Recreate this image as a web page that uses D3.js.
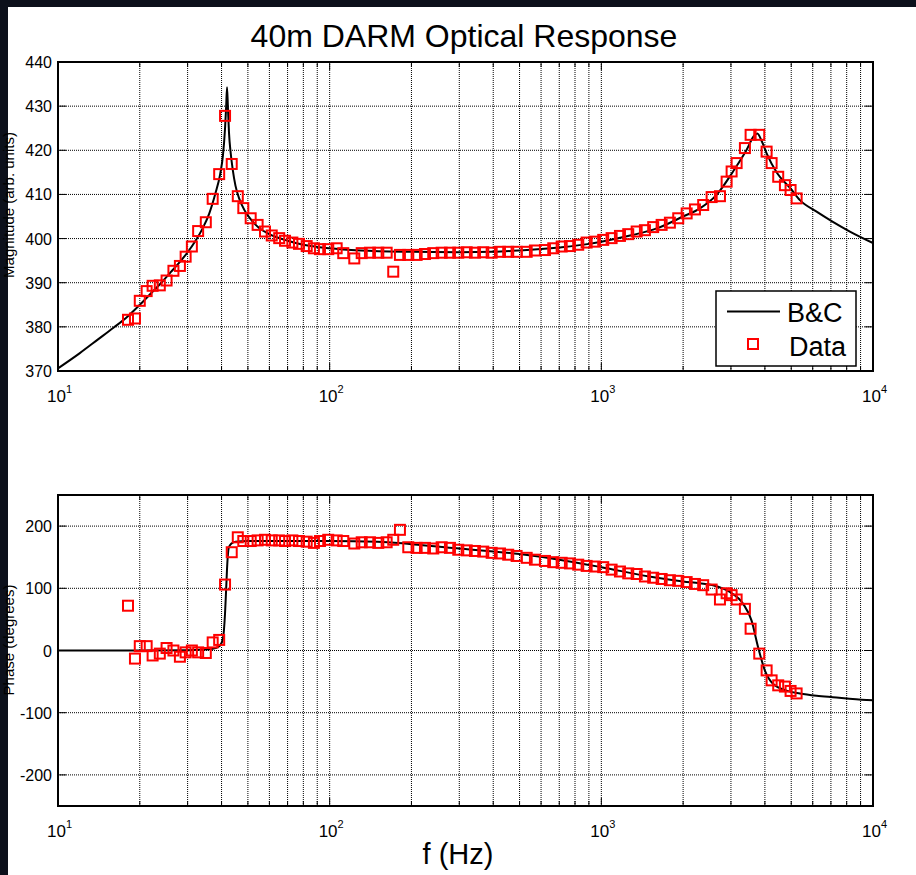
<!DOCTYPE html>
<html>
<head>
<meta charset="utf-8">
<script src="https://cdn.jsdelivr.net/npm/d3@7.9.0/dist/d3.min.js"></script>
<style>
  html, body { margin: 0; padding: 0; background: #0c101b; }
  svg { display: block; }
  text { font-family: "Liberation Sans", Arial, sans-serif; fill: #000; }
</style>
</head>
<body>
<svg width="916" height="875"></svg>
<script>
// measured sweep (Hz)
const freqs = [18.1, 19.2, 20.0, 21.2, 22.3, 23.7, 25.1, 26.6, 28.1, 29.5,
  31.1, 32.8, 35.0, 37.1, 39.2, 41.2, 43.6, 45.9, 48.1, 51.2,
  54.3, 57.8, 61.2, 65.2, 68.5, 72.9, 77.1, 82.3, 87.5, 92.1,
  98.8, 106.1, 112.2, 123.2, 131.2, 140.7, 151.0, 162.1, 171.4, 181.4,
  194.7, 209.0, 224.3, 240.6, 258.4, 277.2, 297.4, 319.4, 342.6, 367.6,
  394.8, 423.6, 454.2, 487.7, 531.1, 569.6, 620.2, 665.3, 714.5, 766.3,
  822.2, 882.9, 947.1, 1016, 1091, 1171, 1256, 1349, 1447, 1552,
  1667, 1788, 1919, 2061, 2211, 2371, 2547, 2733, 2892, 3017,
  3148, 3377, 3544, 3813, 4059, 4235, 4478, 4740, 4973, 5234];

const magData = [381.6, 381.9, 385.9, 388.1, 389.3, 389.4, 390.5, 392.7, 393.8, 395.9,
  398.2, 401.7, 403.7, 409.0, 414.6, 427.8, 416.9, 409.6, 406.9, 404.6,
  403.1, 401.6, 400.7, 400.1, 399.5, 399.1, 398.8, 398.3, 397.8, 397.6,
  397.6, 397.8, 396.7, 395.5, 396.7, 396.8, 396.8, 396.8, 392.5, 396.3,
  396.3, 396.3, 396.5, 396.7, 396.8, 396.8, 396.8, 396.9, 396.8, 396.9,
  396.8, 397.0, 397.0, 397.0, 397.0, 397.3, 397.4, 397.8, 398.2, 398.3,
  398.6, 399.1, 399.3, 399.7, 400.1, 400.6, 401.0, 401.6, 401.9, 402.6,
  403.1, 403.6, 404.6, 405.7, 406.6, 407.6, 409.4, 409.6, 412.9, 415.2,
  417.1, 420.5, 423.5, 423.5, 419.7, 417.1, 414.0, 412.1, 411.0, 409.1];

const phaseData = [72, -13, 7, 7, -8, -5, 4, 0, -10, -3,
  0, -3, -4, 13, 17, 106, 158, 182, 176, 176,
  177, 178, 177, 177, 176, 177, 176, 175, 173, 176,
  178, 177, 176, 172, 174, 174, 173, 174, 178, 194,
  166, 165, 165, 164, 166, 165, 162, 161, 160, 159,
  157, 156, 154, 152, 149, 146, 144, 142, 141, 140,
  138, 136, 135, 134, 130, 127, 124, 123, 119, 117,
  115, 113, 112, 110, 107, 105, 98, 82, 92, 89,
  82, 67, 35, -5, -32, -48, -56, -58, -65, -69];

// B&C model
const magModelFreqs = [10, 12, 14, 16, 18, 20, 22, 24, 26, 28, 30, 32, 34, 36, 38,
  39.5, 40.5, 41.2, 41.6, 41.9, 42.2, 42.6, 43.2, 44, 45, 46.5, 48.5, 51, 55, 60,
  70, 80, 100, 130, 200, 300, 400, 500, 700, 900, 1000, 1300, 1600, 2000, 2300,
  2655, 3055, 3427, 3650, 3750, 3900, 4059, 4440, 4965, 5383, 6199, 7117, 8222, 10000];
const magModel = [370.6, 374.0, 377.1, 379.8, 382.3, 385.0, 387.6, 390.0, 392.4, 394.6, 396.9, 399.4, 402.2, 405.6, 410.3,
  414.5, 419.0, 425.0, 430.0, 434.3, 430.0, 424.0, 419.5, 415.5, 412.0, 409.0, 406.5, 404.5, 402.4, 401.0,
  399.5, 398.6, 397.8, 397.3, 397.0, 396.9, 397.0, 397.3, 398.0, 398.8, 399.3, 400.8, 402.3, 405.0, 406.8,
  409.9, 415.2, 420.1, 423.3, 423.8, 422.0, 419.3, 414.8, 411.4, 408.7, 406.1, 403.8, 401.6, 399.0];

const phaseModelFreqs = [10, 20, 30, 36, 38, 39.5, 40.5, 41.2, 41.6, 42, 42.5, 43.5, 45, 50,
  100, 150, 200, 300, 500, 700, 1000, 1500, 2000, 2300, 2576, 2972, 3327, 3573, 3778,
  3998, 4293, 4808, 5383, 6199, 7117, 9456, 10000];
const phaseModel = [0, 0, 0.5, 2, 4, 8, 20, 60, 100, 140, 165, 172, 175, 176,
  176, 175, 171, 164, 155, 146, 134, 119, 111, 108, 105, 94, 75, 48, 5,
  -32, -54, -64.5, -69, -72.6, -75, -79.5, -80];

const magTicks = [370, 380, 390, 400, 410, 420, 430, 440];
const phaseTicks = [-200, -100, 0, 100, 200];
const decadeTicks = [10, 100, 1000, 10000];

const svg = d3.select('svg');

// white figure area
svg.append('rect').attr('x', 8).attr('y', 7).attr('width', 908).attr('height', 868).attr('fill', '#fff');

const x = d3.scaleLog().domain([10, 10000]).range([58, 873]);

function drawPanel(top, bottom, domain, yTicks, mFreqs, mVals, dVals) {
  const y = d3.scaleLinear().domain(domain).range([bottom, top]);
  const g = svg.append('g');
  const minor = x.ticks();

  // dotted grid
  g.selectAll('.vg').data(minor).join('line')
    .attr('x1', d => x(d)).attr('x2', d => x(d))
    .attr('y1', top).attr('y2', bottom)
    .attr('stroke', '#000').attr('stroke-width', 1).attr('stroke-dasharray', '1,1');
  g.selectAll('.hg').data(yTicks).join('line')
    .attr('x1', 58).attr('x2', 873)
    .attr('y1', d => y(d)).attr('y2', d => y(d))
    .attr('stroke', '#000').attr('stroke-width', 1).attr('stroke-dasharray', '1,1');

  // inner ticks
  const isMajor = d => decadeTicks.includes(d);
  [top, bottom].forEach(edge => {
    const dir = edge === top ? 1 : -1;
    g.selectAll(null).data(minor).join('line')
      .attr('x1', d => x(d)).attr('x2', d => x(d))
      .attr('y1', edge).attr('y2', d => edge + dir * (isMajor(d) ? 8 : 5))
      .attr('stroke', '#000').attr('stroke-width', 1);
  });
  [58, 873].forEach(edge => {
    const dir = edge === 58 ? 1 : -1;
    g.selectAll(null).data(yTicks).join('line')
      .attr('x1', edge).attr('x2', edge + dir * 8)
      .attr('y1', d => y(d)).attr('y2', d => y(d))
      .attr('stroke', '#000').attr('stroke-width', 1);
  });

  // model line
  const line = d3.line()
    .x((d, i) => x(mFreqs[i]))
    .y(d => y(d))
    .curve(d3.curveMonotoneX);
  g.append('path').datum(mVals).attr('d', line)
    .attr('fill', 'none').attr('stroke', '#000').attr('stroke-width', 2);

  // data squares
  g.selectAll('.pt').data(dVals).join('rect')
    .attr('x', (d, i) => x(freqs[i]) - 5).attr('y', d => y(d) - 5)
    .attr('width', 10).attr('height', 10)
    .attr('fill', 'none').attr('stroke', '#ff0000').attr('stroke-width', 2);

  // frame
  g.append('rect').attr('x', 58).attr('y', top).attr('width', 815).attr('height', bottom - top)
    .attr('fill', 'none').attr('stroke', '#000').attr('stroke-width', 2);

  // y tick labels
  g.selectAll('.yl').data(yTicks).join('text')
    .attr('x', 52).attr('y', d => y(d) + 6)
    .attr('text-anchor', 'end').attr('font-size', 16)
    .text(d => d);

  // x tick labels 10^n
  const xl = g.selectAll('.xl').data(decadeTicks).join('text')
    .attr('x', d => x(d) - 11).attr('y', bottom + 31)
    .attr('font-size', 17);
  xl.append('tspan').text('10');
  xl.append('tspan').attr('dy', -9).attr('font-size', 11).text(d => Math.round(Math.log10(d)));
  return y;
}

drawPanel(62, 371, [370, 440], magTicks, magModelFreqs, magModel, magData);
drawPanel(495, 806, [-250, 250], phaseTicks, phaseModelFreqs, phaseModel, phaseData);

// title and axis labels
svg.append('text').attr('x', 464).attr('y', 47).attr('text-anchor', 'middle')
  .attr('font-size', 32).text('40m DARM Optical Response');
svg.append('text').attr('x', 458).attr('y', 864).attr('text-anchor', 'middle')
  .attr('font-size', 29).text('f (Hz)');
svg.append('text').attr('transform', 'translate(14,205) rotate(-90)').attr('text-anchor', 'middle')
  .attr('font-size', 15).attr('fill', '#111').text('Magnitude (arb. units)');
svg.append('text').attr('transform', 'translate(14,640) rotate(-90)').attr('text-anchor', 'middle')
  .attr('font-size', 15).attr('fill', '#111').text('Phase (degrees)');

// legend
const lg = svg.append('g');
lg.append('rect').attr('x', 716).attr('y', 291).attr('width', 140).attr('height', 75)
  .attr('fill', '#fff').attr('stroke', '#000').attr('stroke-width', 1.5);
lg.append('line').attr('x1', 727).attr('x2', 780).attr('y1', 311.5).attr('y2', 311.5)
  .attr('stroke', '#000').attr('stroke-width', 2);
lg.append('text').attr('x', 787).attr('y', 322).attr('font-size', 27).text('B&C');
lg.append('rect').attr('x', 748).attr('y', 339).attr('width', 10).attr('height', 10)
  .attr('fill', 'none').attr('stroke', '#ff0000').attr('stroke-width', 2);
lg.append('text').attr('x', 789).attr('y', 356).attr('font-size', 27).text('Data');
</script>
</body>
</html>
